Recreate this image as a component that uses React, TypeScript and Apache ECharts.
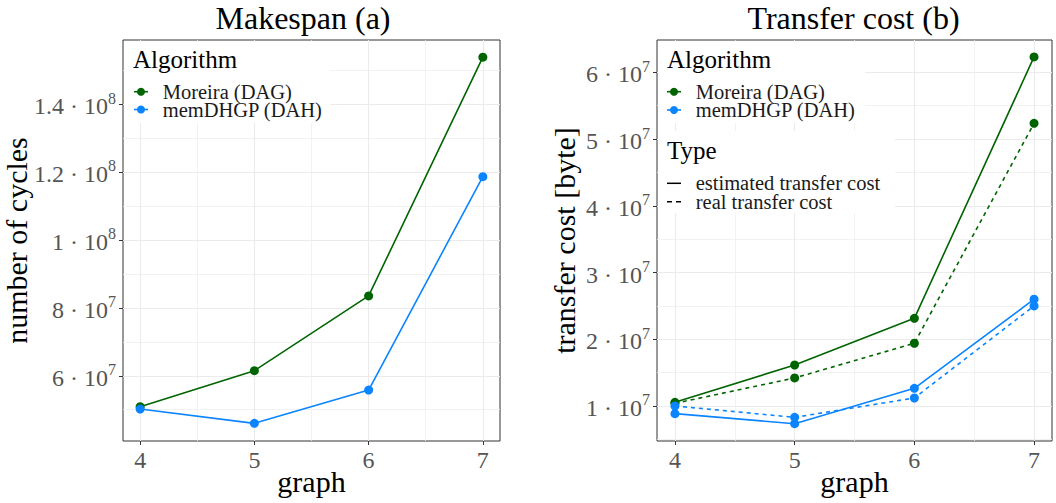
import React, { useEffect, useRef } from "react";
import * as echarts from "echarts";

// ---- data ----
const graphs = [4, 5, 6, 7];
const makespanMoreira = [5.09e7, 6.15e7, 8.35e7, 1.538e8];
const makespanMemDHGP = [5.02e7, 4.6e7, 5.58e7, 1.186e8];
const transferEstMoreira = [1.055e7, 1.614e7, 2.314e7, 6.23e7];
const transferRealMoreira = [1.04e7, 1.42e7, 1.94e7, 5.235e7];
const transferEstMemDHGP = [8.85e6, 7.35e6, 1.265e7, 2.6e7];
const transferRealMemDHGP = [1.0e7, 8.3e6, 1.12e7, 2.5e7];

const xMajorTicks = [4, 5, 6, 7];
const xMinorTicks = [4.5, 5.5, 6.5];
const leftYMajorTicks = [6e7, 8e7, 1e8, 1.2e8, 1.4e8];
const leftYMinorTicks = [5e7, 7e7, 9e7, 1.1e8, 1.3e8, 1.5e8];
const rightYMajorTicks = [1e7, 2e7, 3e7, 4e7, 5e7, 6e7];
const rightYMinorTicks = [5e6, 1.5e7, 2.5e7, 3.5e7, 4.5e7, 5.5e7];

const algorithmNames = ["Moreira (DAG)", "memDHGP (DAH)"];
const typeNames = ["estimated transfer cost", "real transfer cost"];
const titles = ["Makespan (a)", "Transfer cost (b)"];

const GREEN = "#006400";
const BLUE = "#0a84ff";
const FONT = "Liberation Serif";

const sci = (v: number) => {
  const e = Math.floor(Math.log10(v) + 1e-9);
  const m = +(v / Math.pow(10, e)).toFixed(2);
  return `{m|${m} · 10}{s|${e}}`;
};

const zip = (ys: number[]) => graphs.map((g, i) => [g, ys[i]]);

export default function App() {
  const ref = useRef<HTMLDivElement>(null);
  useEffect(() => {
    if (!ref.current) return;
    const chart = echarts.init(ref.current, null, { renderer: "svg" });

    const grids = [
      { left: 123, top: 40, width: 377, height: 401 },
      { left: 657, top: 40, width: 395, height: 401 },
    ];

    const richLabel = {
      m: { fontSize: 24, fontFamily: FONT, color: "#555", verticalAlign: "bottom", lineHeight: 28 },
      s: { fontSize: 16, fontFamily: FONT, color: "#555", verticalAlign: "top", lineHeight: 28 },
    };

    const xMain = (gi: number, name: string) => ({
      type: "value",
      gridIndex: gi,
      min: 3.85,
      max: 7.15,
      name,
      nameLocation: "middle",
      nameGap: 25,
      nameMoveOverlap: false,
      nameTextStyle: { fontFamily: FONT, fontSize: 30, color: "#000" },
      axisLine: { show: false },
      axisTick: { show: true, customValues: xMajorTicks, length: 4, lineStyle: { color: "#333", width: 1 } },
      axisLabel: {
        customValues: xMajorTicks,
        fontFamily: FONT,
        fontSize: 24,
        color: "#555",
        margin: 7,
      },
      splitLine: { show: true, lineStyle: { color: "#ebebeb", width: 1.1 } },
    });
    const xMinor = (gi: number) => ({
      type: "value",
      gridIndex: gi,
      min: 3.85,
      max: 7.15,
      axisLine: { show: false },
      axisTick: { show: false, customValues: xMinorTicks },
      axisLabel: { show: false, customValues: xMinorTicks },
      splitLine: { show: true, lineStyle: { color: "#efefef", width: 0.8 } },
    });
    const yMain = (gi: number, min: number, max: number, ticks: number[], name: string, gap: number) => ({
      type: "value",
      gridIndex: gi,
      min,
      max,
      name,
      nameLocation: "middle",
      nameGap: gap,
      nameMoveOverlap: false,
      nameTextStyle: { fontFamily: FONT, fontSize: 30, color: "#000" },
      axisLine: { show: false },
      axisTick: { show: true, customValues: ticks, length: 4, lineStyle: { color: "#333", width: 1 } },
      axisLabel: {
        customValues: ticks,
        formatter: (v: number) => sci(v),
        rich: richLabel,
        margin: 7,
      },
      splitLine: { show: true, lineStyle: { color: "#ebebeb", width: 1.1 } },
    });
    const yMinor = (gi: number, min: number, max: number, ticks: number[]) => ({
      type: "value",
      gridIndex: gi,
      min,
      max,
      axisLine: { show: false },
      axisTick: { show: false, customValues: ticks },
      axisLabel: { show: false, customValues: ticks },
      splitLine: { show: true, lineStyle: { color: "#efefef", width: 0.8 } },
    });

    const lineSeries = (name: string, ys: number[], color: string, xi: number, yi: number, dashed: boolean) => ({
      type: "line",
      name,
      xAxisIndex: xi,
      yAxisIndex: yi,
      data: zip(ys),
      symbol: "circle",
      symbolSize: 9,
      showSymbol: true,
      lineStyle: { color, width: 1.6, type: dashed ? [4, 4] : "solid" },
      itemStyle: { color },
      z: 3,
    });

    const itemText = (x: number, y: number, text: string) => ({
      type: "text",
      x,
      y,
      style: {
        text,
        fontFamily: FONT,
        fontSize: 20.5,
        lineHeight: 16,
        fill: "#1a1a1a",
        textVerticalAlign: "middle",
      },
      z: 5,
    });

    // legend graphics
    const legendItem = (x: number, y: number, text: string, color: string) => [
      { type: "line", shape: { x1: x, y1: y, x2: x + 14, y2: y }, style: { stroke: color, lineWidth: 1.6 }, z: 5 },
      { type: "circle", shape: { cx: x + 7, cy: y, r: 4 }, style: { fill: color }, z: 5 },
      itemText(x + 28.7, y, text),
    ];
    const typeItem = (x: number, y: number, text: string, dashed: boolean) => [
      {
        type: "line",
        shape: { x1: x, y1: y, x2: x + 14, y2: y },
        style: { stroke: "#000", lineWidth: 1.5, lineDash: dashed ? [5, 4] : null },
        z: 5,
      },
      itemText(x + 28.7, y, text),
    ];
    const legendTitle = (x: number, y: number, text: string) => ({
      type: "text",
      x,
      y,
      style: { text, fontFamily: FONT, fontSize: 25, fill: "#000", textVerticalAlign: "middle" },
      z: 5,
    });
    const box = (x: number, y: number, w: number, h: number) => ({
      type: "rect",
      shape: { x, y, width: w, height: h },
      style: { fill: "#fff" },
      z: 1,
    });

    const graphic: any[] = [
      {
        type: "text",
        x: 303,
        y: 18,
        style: { text: titles[0], fontFamily: FONT, fontSize: 32, fill: "#000", textAlign: "center", textVerticalAlign: "middle" },
      },
      {
        type: "text",
        x: 853.5,
        y: 18,
        style: { text: titles[1], fontFamily: FONT, fontSize: 32, fill: "#000", textAlign: "center", textVerticalAlign: "middle" },
      },
      box(124, 41, 206, 82),
      box(658, 41, 207, 82),
      box(658, 131, 237, 82),
      legendTitle(133, 59, "Algorithm"),
      ...legendItem(134, 91.7, algorithmNames[0], GREEN),
      ...legendItem(134, 109.5, algorithmNames[1], BLUE),
      legendTitle(667, 59, "Algorithm"),
      ...legendItem(667, 91.7, algorithmNames[0], GREEN),
      ...legendItem(667, 110, algorithmNames[1], BLUE),
      legendTitle(667, 150, "Type"),
      ...typeItem(667, 183.3, typeNames[0], false),
      ...typeItem(667, 201.7, typeNames[1], true),
    ];

    chart.setOption({
      animation: false,
      grid: grids.map((g) => ({
        ...g,
        show: true,
        borderColor: "#333",
        borderWidth: 1,
        backgroundColor: "transparent",
        containLabel: false,
        outerBoundsMode: "none",
      })),
      xAxis: [xMain(0, "graph"), xMinor(0), xMain(1, "graph"), xMinor(1)],
      yAxis: [
        yMain(0, 4.08e7, 1.5885e8, leftYMajorTicks, "number of cycles", 92),
        yMinor(0, 4.08e7, 1.5885e8, leftYMinorTicks),
        yMain(1, 4.755e6, 6.484e7, rightYMajorTicks, "transfer cost [byte]", 78),
        yMinor(1, 4.755e6, 6.484e7, rightYMinorTicks),
      ],
      series: [
        lineSeries("Moreira (DAG)", makespanMoreira, GREEN, 0, 0, false),
        lineSeries("memDHGP (DAH)", makespanMemDHGP, BLUE, 0, 0, false),
        lineSeries("Moreira (DAG) est", transferEstMoreira, GREEN, 2, 2, false),
        lineSeries("Moreira (DAG) real", transferRealMoreira, GREEN, 2, 2, true),
        lineSeries("memDHGP (DAH) est", transferEstMemDHGP, BLUE, 2, 2, false),
        lineSeries("memDHGP (DAH) real", transferRealMemDHGP, BLUE, 2, 2, true),
      ],
      graphic,
    });
    return () => chart.dispose();
  }, []);
  return <div ref={ref} style={{ width: 1056, height: 503, position: "absolute", left: 0, top: 0 }} />;
}
